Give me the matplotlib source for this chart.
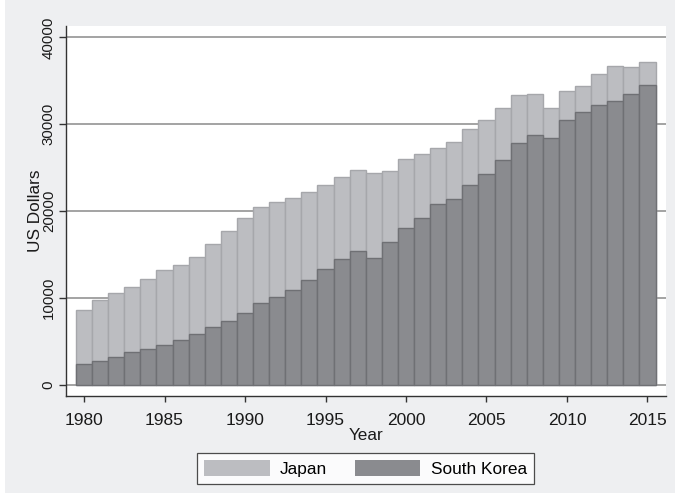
import matplotlib
matplotlib.use("Agg")
import matplotlib.pyplot as plt
from matplotlib.patches import Patch, Rectangle

plt.rcParams['font.family'] = ['Liberation Sans', 'DejaVu Sans']

years = list(range(1980, 2016))
japan = [8600, 9750, 10590, 11280, 12160, 13230, 13810, 14690, 16190, 17680,
         19260, 20450, 21020, 21520, 22180, 22980, 23940, 24710, 24400, 24630,
         26010, 26580, 27270, 27960, 29460, 30500, 31840, 33340, 33520, 31910,
         33830, 34370, 35790, 36670, 36590, 37200]
korea = [2450, 2800, 3220, 3760, 4140, 4600, 5180, 5870, 6710, 7400,
         8320, 9400, 10130, 10930, 12050, 13350, 14500, 15420, 14610, 16460,
         18100, 19220, 20830, 21400, 23020, 24280, 25850, 27880, 28730, 28420,
         30530, 31380, 32220, 32680, 33450, 34520]
yticks = [0, 10000, 20000, 30000, 40000]
xticks = [1980, 1985, 1990, 1995, 2000, 2005, 2010, 2015]

bg = '#eeeff1'
ink = '#1a1a1a'
japan_fill, japan_edge = '#bcbdc1', '#a6a7ab'
korea_fill, korea_edge = '#8a8b8f', '#6f7074'

fig = plt.figure(figsize=(6.75, 4.93), dpi=100, facecolor=bg)
fig.patches.append(Rectangle((0, 0), 5 / 675, 1, transform=fig.transFigure,
                             facecolor='white', edgecolor='none', zorder=-1))
ax = fig.add_axes([65.5 / 675, (493 - 396) / 493, (666 - 65.5) / 675, (396 - 26) / 493])
ax.set_facecolor('white')

ax.bar(years, japan, width=1.0, color=japan_fill, edgecolor=japan_edge,
       linewidth=1.0, zorder=2, label='Japan')
ax.bar(years, korea, width=1.0, color=korea_fill, edgecolor=korea_edge,
       linewidth=1.0, zorder=3, label='South Korea')

ax.set_xlim(1978.85, 2016.15)
ax.set_ylim(-1266, 41312)
ax.set_yticks(yticks)
ax.set_xticks(xticks)
ax.yaxis.grid(True, color='#9c9c9c', linewidth=1.3, zorder=1)
ax.set_axisbelow(True)

for side in ('top', 'right'):
    ax.spines[side].set_visible(False)
for side in ('left', 'bottom'):
    ax.spines[side].set_color('#333333')
    ax.spines[side].set_linewidth(1.0)

ax.tick_params(axis='both', direction='out', width=1.0, color='#333333',
               labelcolor=ink)
ax.tick_params(axis='x', length=4.5, pad=7.5, labelsize=12.5)
ax.tick_params(axis='y', length=5, pad=2.0, labelsize=10.8)
for lbl in ax.get_yticklabels():
    lbl.set_rotation(90)
    lbl.set_va('center')

ax.set_xlabel('Year', fontsize=12.3, labelpad=0, color=ink)
ax.set_ylabel('US Dollars', fontsize=12.4, labelpad=-1, color=ink)

handles = [Patch(facecolor=japan_fill, edgecolor='none'),
           Patch(facecolor=korea_fill, edgecolor='none')]
leg = fig.legend(handles, ['Japan', 'South Korea'], loc='center',
                 bbox_to_anchor=(365.5 / 675, (493 - 468.2) / 493), ncol=2,
                 frameon=True, fancybox=False, fontsize=12.4,
                 handlelength=3.8, handleheight=1.05, handletextpad=0.6,
                 columnspacing=1.6, borderpad=0.4, borderaxespad=0)
leg.get_frame().set_edgecolor('#222222')
leg.get_frame().set_linewidth(0.9)
leg.get_frame().set_facecolor('white')

fig.savefig('out.png', dpi=100, facecolor=fig.get_facecolor())
